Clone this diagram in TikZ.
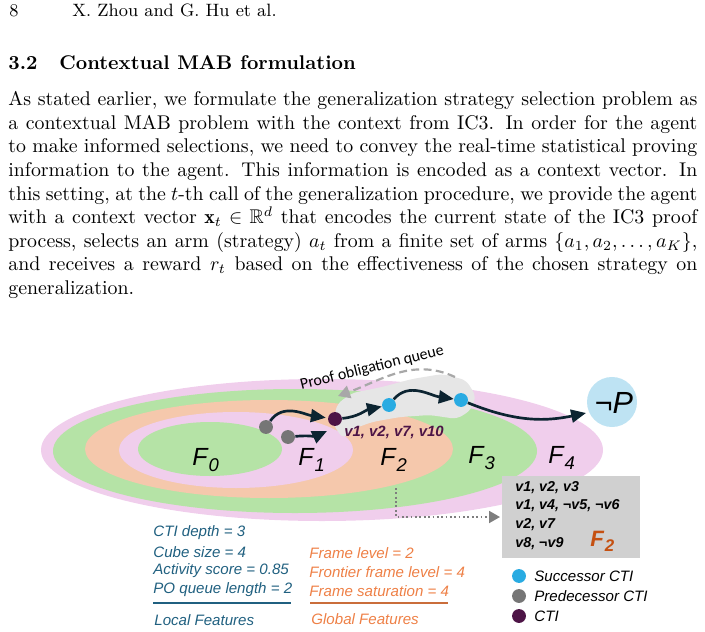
\documentclass[tikz,border=0pt]{standalone}
\usepackage{amssymb}
\usepackage{fontspec}
\usetikzlibrary{arrows.meta,shapes.geometric}
\newfontfamily\figfont{Liberation Sans}
\newfontfamily\calfont{Carlito}
\definecolor{pinkF}{RGB}{240,206,236}
\definecolor{greenF}{RGB}{181,227,166}
\definecolor{orangeF}{RGB}{245,200,172}
\definecolor{blobgray}{RGB}{230,230,230}
\definecolor{boxgray}{RGB}{208,208,208}
\definecolor{negp}{RGB}{190,227,243}
\definecolor{succ}{RGB}{41,171,226}
\definecolor{pred}{RGB}{118,118,118}
\definecolor{cti}{RGB}{77,20,70}
\definecolor{arrowc}{RGB}{12,36,49}
\definecolor{localc}{RGB}{32,96,128}
\definecolor{globalc}{RGB}{238,128,70}
\definecolor{ftwo}{RGB}{197,80,17}
\definecolor{queuegray}{RGB}{168,168,168}
\newcommand{\Flab}[1]{{\figfont\itshape\fontsize{12.5}{12.5}\selectfont F\kern0.5pt\raisebox{-3.5pt}{\fontsize{9.3}{9.3}\selectfont #1}}}
\tikzset{
  dot/.style={circle, inner sep=0pt, minimum size=7pt},
  arr/.style={arrowc, line width=1.35pt, -{Triangle[length=7.5pt,width=6.5pt]}},
  qarr/.style={queuegray, line width=1.1pt, dash pattern=on 4pt off 2.2pt, -{Triangle[length=6pt,width=6.5pt]}},
  dotarr/.style={queuegray!75!black, line width=1pt, dash pattern=on 0.9pt off 1.3pt, -{Triangle[length=5.5pt,width=6pt]}},
  flab/.style={anchor=base west, inner sep=0pt},
  feat/.style={anchor=west, inner sep=0pt, font=\figfont\itshape\fontsize{7.6}{7.6}\selectfont},
  boxtxt/.style={anchor=west, inner sep=0pt, font=\figfont\bfseries\itshape\fontsize{7.2}{7.2}\selectfont},
  legtxt/.style={anchor=west, inner sep=0pt, font=\figfont\itshape\fontsize{7.6}{7.6}\selectfont},
}
\begin{document}
\begin{tikzpicture}[x=0.5038pt, y=-0.5038pt]
\useasboundingbox (0,0) rectangle (705,632);
% ---------- page text ----------
\node[anchor=base west, inner sep=0pt, font=\fontsize{9}{11}\selectfont] (pnum) at (9,17) {8};
\node[anchor=base west, inner sep=0pt, font=\fontsize{9}{11}\selectfont] (rhead) at (72,17) {X. Zhou and G. Hu et al.};
\node[anchor=base west, inner sep=0pt, font=\fontsize{10}{12}\selectfont\bfseries] (secnum) at (8,70) {3.2};
\node[anchor=base west, inner sep=0pt, font=\fontsize{10}{12}\selectfont\bfseries] (sectitle) at (59,70) {Contextual MAB formulation};
\node[anchor=north west, inner sep=0pt, text width=347.1pt, align=justify, font=\fontsize{10}{11.9}\selectfont] (para) at (8,91) {%
As stated earlier, we formulate the generalization strategy selection problem as\linebreak
a contextual MAB problem with the context from IC3. In order for the agent\linebreak
to make informed selections, we need to convey the real-time statistical proving\linebreak
information to the agent. This information is encoded as a context vector. In\linebreak
this setting, at the $t$-th call of the generalization procedure, we provide the agent\linebreak
with a context vector $\mathbf{x}_t \in \mathbb{R}^d$ that encodes the current state of the IC3 proof\linebreak
process, selects an arm (strategy) $a_t$ from a finite set of arms $\{a_1, a_2, \ldots, a_K\}$,\linebreak
and receives a reward $r_t$ based on the effectiveness of the chosen strategy on\linebreak
generalization.};
% ---------- frames ----------
\fill[pinkF]   (322,450) ellipse [x radius=281, y radius=71];
\fill[greenF]  (295,451) ellipse [x radius=242, y radius=62];
\fill[orangeF] (269,449) ellipse [x radius=184, y radius=49];
\fill[pinkF]   (236,450) ellipse [x radius=117, y radius=38];
\fill[greenF]  (210,449) ellipse [x radius=72,  y radius=27];
% proof obligation queue highlight
\fill[blobgray, rounded corners=3pt] (343,439) -- (333,424) -- (337,404) -- (352,393) -- (382,387) -- (412,379) -- (442,374) -- (466,380) -- (476,396) -- (471,410) -- (457,419) -- (430,415) -- (400,417) -- (372,422) -- (353,429) -- cycle;
% frame labels
\node[flab] (F0) at (192,465) {\Flab{0}};
\node[flab] (F1) at (298,465) {\Flab{1}};
\node[flab] (F2) at (380,465) {\Flab{2}};
\node[flab] (F3) at (468,463) {\Flab{3}};
\node[flab] (F4) at (548,463) {\Flab{4}};
% not P
\node[circle, fill=negp, minimum size=25.2pt, inner sep=0pt] (np) at (612,402) {};
\node[inner sep=0pt, font=\figfont\fontsize{15.4}{15.4}\selectfont] (nptxt) at (614,403) {¬\textit{P}};
% queue label and arrow
\node[inner sep=0pt, rotate=14, font=\calfont\fontsize{8}{8}\selectfont] (qlab) at (372,368) {Proof obligation queue};
\coordinate (qs) at (455,377);
\coordinate (qe) at (338,396);
\draw[qarr] (qs) to[out=155,in=20] (qe);
% CTI dots
\node[dot, fill=pred] (p1) at (266,427) {};
\node[dot, fill=pred] (p2) at (288,437) {};
\node[dot, fill=cti]  (c)  at (335,419) {};
\node[dot, fill=succ] (s1) at (389,405) {};
\node[dot, fill=succ] (s2) at (461,400) {};
\coordinate (p2e) at (327,431);
\coordinate (npe) at (586,413);
\draw[arr, shorten >=1pt] (p1) to[out=55,in=172] (c);
\draw[arr] (p2) to[out=5,in=205] (p2e);
\draw[arr] (c) to[out=5,in=192] (s1);
\draw[arr] (s1) to[out=50,in=172] (s2);
\draw[arr] (s2) to[out=-22,in=192] (npe);
\node[anchor=west, inner sep=0pt, text=cti, font=\figfont\bfseries\itshape\fontsize{7.5}{7.5}\selectfont] (vlab) at (344,432) {v1, v2, v7, v10};
% F2 box
\node[anchor=north west, fill=boxgray, minimum width=69.5pt, minimum height=41.3pt, inner sep=0pt] (box) at (502,476) {};
\node[boxtxt] (b1) at (515,488) {v1, v2, v3};
\node[boxtxt] (b2) at (515,506) {v1, v4, ¬v5, ¬v6};
\node[boxtxt] (b3) at (515,525) {v2, v7};
\node[boxtxt] (b4) at (515,544) {v8, ¬v9};
\node[anchor=base west, inner sep=0pt, text=ftwo, font=\figfont\bfseries\itshape\fontsize{11.2}{11.2}\selectfont] (boxF) at (590,546) {F\kern0.5pt\raisebox{-3pt}{\fontsize{8.5}{8.5}\selectfont 2}};
\coordinate (dstart) at (396,488);
\coordinate (dend) at (500,517);
\draw[dotarr] (dstart) |- (dend);
% features
\node[feat, text=localc] (l1) at (153,533) {CTI depth = 3};
\node[feat, text=localc] (l2) at (153,552) {Cube size = 4};
\node[feat, text=localc] (l3) at (153,571) {Activity score = 0.85};
\node[feat, text=localc] (l4) at (153,590) {PO queue length = 2};
\coordinate (lu1) at (153,603);
\coordinate (lu2) at (291,603);
\draw[localc, line width=0.9pt] (lu1) -- (lu2);
\node[feat, text=localc] (lt) at (154,620) {Local Features};
\node[feat, text=globalc] (g1) at (309,553) {Frame level = 2};
\node[feat, text=globalc] (g2) at (309,572) {Frontier frame level = 4};
\node[feat, text=globalc] (g3) at (309,591) {Frame saturation = 4};
\coordinate (gu1) at (310,603);
\coordinate (gu2) at (448,603);
\draw[globalc!85!black, line width=0.9pt] (gu1) -- (gu2);
\node[feat, text=globalc] (gt) at (311,619) {Global Features};
% legend
\node[dot, fill=succ] (ld1) at (519,576) {};
\node[dot, fill=pred] (ld2) at (519,596) {};
\node[dot, fill=cti]  (ld3) at (519,616) {};
\node[legtxt] (lt1) at (534,576) {Successor CTI};
\node[legtxt] (lt2) at (534,596) {Predecessor CTI};
\node[legtxt] (lt3) at (534,616) {CTI};
\end{tikzpicture}
\end{document}
